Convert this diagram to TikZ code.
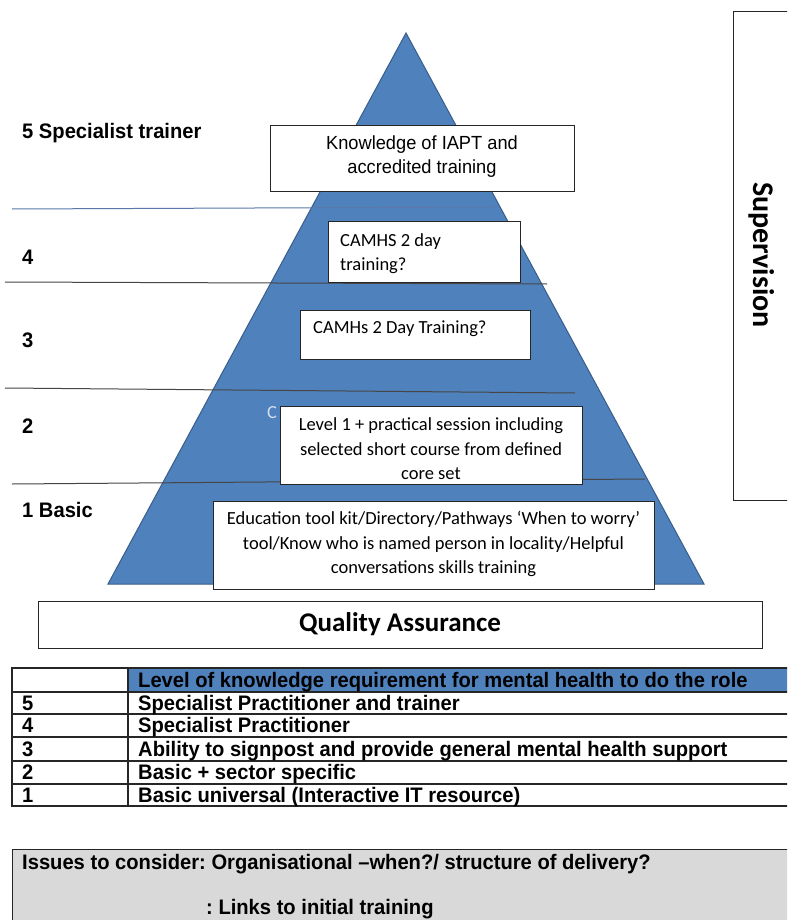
\documentclass[tikz,border=0pt]{standalone}
\usepackage{fontspec}
\setmainfont{Liberation Sans}
\newfontfamily\calfont{Carlito}
\newfontfamily\narrowfont[FakeStretch=0.96]{Liberation Sans}
\usetikzlibrary{positioning}
\frenchspacing
\definecolor{pyrblue}{RGB}{79,129,189}
\definecolor{pyredge}{RGB}{56,93,138}
\definecolor{tiergray}{RGB}{70,70,70}
\definecolor{tierblue}{RGB}{90,120,170}
\definecolor{issuegray}{RGB}{217,217,217}
\tikzset{
    pyramid/.style = {fill=pyrblue,draw=pyredge,line width=1pt},
    tierline/.style = {draw=tiergray,line width=1pt},
    tierbox/.style = {rectangle,draw=black!85,fill=white,line width=1pt,inner sep=0pt},
    tierlabel/.style = {anchor=base west,inner sep=0pt,font=\narrowfont\bfseries\fontsize{21}{24}\selectfont},
    boxtext/.style = {inner sep=0pt,align=center,font=\calfont\fontsize{18.5}{24.5}\selectfont},
    arialtext/.style = {inner sep=0pt,align=center,font=\narrowfont\fontsize{19}{24}\selectfont},
    bigtitle/.style = {inner sep=0pt,font=\calfont\bfseries\fontsize{27}{30}\selectfont},
    tabletext/.style = {anchor=base west,inner sep=0pt,font=\narrowfont\bfseries\fontsize{21}{24}\selectfont},
    tablerule/.style = {draw=black!85,line width=1.2pt}
}
\begin{document}
\begin{tikzpicture}[x=1pt,y=-1pt]
  \clip (0,0) rectangle (787,920);
  \fill[white] (0,0) rectangle (787,920);

  % pyramid and tier lines
  \coordinate (apex) at (406,33);
  \coordinate (baseL) at (108,584);
  \coordinate (baseR) at (704,584);
  \draw[pyramid] (apex) -- (baseR) -- (baseL) -- cycle;
  \draw[tierline,draw=tierblue] (12,209) -- (497,207);
  \draw[tierline] (5,282) -- (547,284);
  \draw[tierline] (5,388) -- (575,393);
  \draw[tierline] (12,484) -- (645,479);

  % supervision
  \node[tierbox,minimum width=80,minimum height=489,anchor=north west] (super) at (733,11) {};
  \node[bigtitle,font=\calfont\bfseries\fontsize{30}{34}\selectfont,rotate=-90] (supertext) at (762,255) {Supervision};

  % tier labels
  \node[tierlabel] (lab5) at (22,138.5) {5 Specialist trainer};
  \node[tierlabel] (lab4) at (22,264.5) {4};
  \node[tierlabel] (lab3) at (22,347.5) {3};
  \node[tierlabel] (lab2) at (22,433.5) {2};
  \node[tierlabel] (lab1) at (22,517.5) {1 Basic};

  % boxes on the pyramid
  \node[tierbox,minimum width=304,minimum height=65] (know) at (422,158.5) {};
  \node[arialtext] (knowtext) at ([yshift=2]know.center) {Knowledge of IAPT and\\accredited training};

  \node[tierbox,minimum width=192,minimum height=61] (camhsA) at (424,251.5) {};
  \node[boxtext,align=left,anchor=north west] (camhsAtext) at (340,233) {CAMHS 2 day\\training?};

  \node[tierbox,minimum width=230,minimum height=49] (camhsB) at (415,334.5) {};
  \node[boxtext,anchor=base west] (camhsBtext) at (313,333) {CAMHs 2 Day Training?};

  \node[boxtext,anchor=west,text=white!75!pyrblue] (hidden) at (267,413) {C};
  \node[tierbox,minimum width=302,minimum height=78] (level) at (431,445) {};
  \begin{scope}
    \clip (level.south west) rectangle (level.north east);
    \node[boxtext] (leveltext) at ([yshift=-4]level.center) {Level 1 + practical session including\\selected short course from defined\\core set};
  \end{scope}

  \node[tierbox,minimum width=441,minimum height=88] (edu) at (433.5,545) {};
  \node[boxtext] (edutext) at ([yshift=1]edu.center) {Education tool kit/Directory/Pathways ‘When to worry’\\tool/Know who is named person in locality/Helpful\\conversations skills training};

  \node[tierbox,minimum width=724,minimum height=47] (qa) at (400,624.5) {};
  \node[bigtitle] (qatext) at (qa.center) {Quality Assurance};

  % level table
  \fill[pyrblue] (128,668) rectangle (800,692);
  \draw[tablerule] (12,668) rectangle (800,806);
  \foreach \ry in {692,714,737,761,784} {
    \draw[tablerule] (12,\ry) -- (800,\ry);
  }
  \draw[tablerule] (128,668) -- (128,806);
  \node[tabletext] (head) at (138,687) {Level of knowledge requirement for mental health to do the role};
  \node[tabletext] (num5) at (22,710) {5};
  \node[tabletext] (num4) at (22,732.5) {4};
  \node[tabletext] (num3) at (22,756) {3};
  \node[tabletext] (num2) at (22,779.5) {2};
  \node[tabletext] (num1) at (22,802) {1};
  \node[tabletext] (row5) at (138,710) {Specialist Practitioner and trainer};
  \node[tabletext] (row4) at (138,732.5) {Specialist Practitioner};
  \node[tabletext] (row3) at (138,756) {Ability to signpost and provide general mental health support};
  \node[tabletext] (row2) at (138,779.5) {Basic + sector specific};
  \node[tabletext] (row1) at (138,802) {Basic universal (Interactive IT resource)};

  % issues
  \node[rectangle,draw=black!85,fill=issuegray,line width=1.2pt,minimum width=800,minimum height=90,anchor=north west] (issues) at (12,849) {};
  \node[tabletext] (issue1) at (22,869.5) {Issues to consider: Organisational –when?/ structure of delivery?};
  \node[tabletext] (issue2) at (206,914.5) {: Links to initial training};
\end{tikzpicture}
\end{document}
